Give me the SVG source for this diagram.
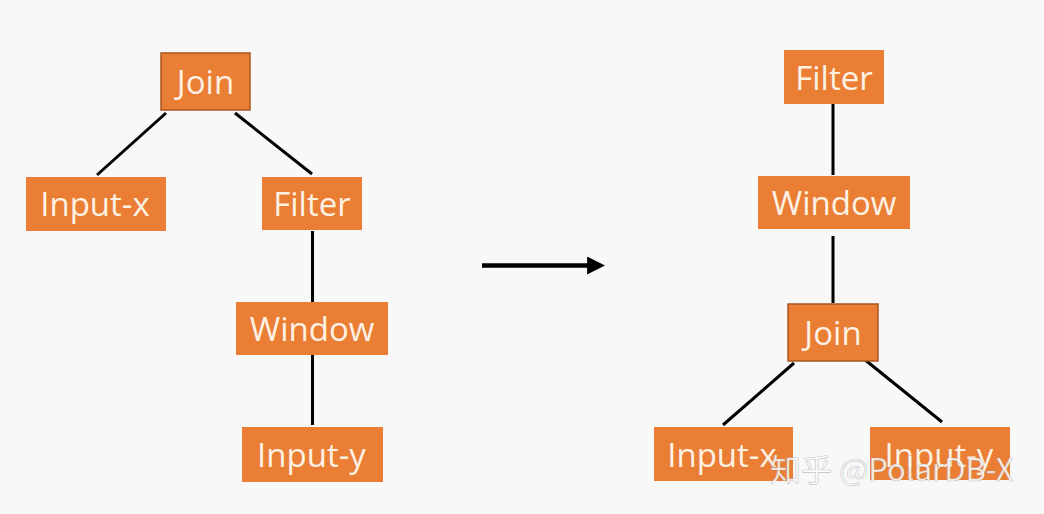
<svg xmlns="http://www.w3.org/2000/svg" width="1044" height="514" viewBox="0 0 1044 514">
<style>
.box{fill:#ea7e35}
.bd{stroke:#a85620;stroke-width:1.5}
.lbl{font-family:"Open Sans","Noto Sans",sans-serif;font-size:33px;fill:#fdf1e4;text-anchor:middle}
.edge{stroke:#000;stroke-width:3;fill:none}
.wm{font-family:"Noto Sans CJK SC","Noto Sans",sans-serif;font-size:31px;fill:#ffffff;fill-opacity:0.85;stroke:#9a9a9a;stroke-width:0.6;stroke-opacity:0.6}
</style>
<defs>
<marker id="ah" markerWidth="4" markerHeight="4" refX="0.2" refY="2" orient="auto" markerUnits="strokeWidth">
<path d="M0,0 L4,2 L0,4 Z" fill="#000"/>
</marker>
</defs>
<rect width="1044" height="514" fill="#f8f8f8"/>
<g id="connectors">
<line class="edge" x1="166" y1="113" x2="97" y2="175"/>
<line class="edge" x1="235" y1="113" x2="312" y2="174"/>
<line class="edge" x1="312.5" y1="231" x2="312.5" y2="302"/>
<line class="edge" x1="312.5" y1="355" x2="312.5" y2="425"/>
<line class="edge" x1="833" y1="104" x2="833" y2="175"/>
<line class="edge" x1="833" y1="236" x2="833" y2="303"/>
<line class="edge" x1="794" y1="363" x2="723" y2="425"/>
<line class="edge" x1="864" y1="359" x2="942" y2="422"/>
<line id="arrow" x1="482" y1="265.5" x2="588" y2="265.5" stroke="#000" stroke-width="4.5" marker-end="url(#ah)"/>
</g>
<g id="l-join"><rect class="box bd" x="161" y="53" width="89" height="57"/><text class="lbl" x="205.5" y="94">Join</text></g>
<g id="l-inputx"><rect class="box" x="26" y="177" width="140" height="54"/><text class="lbl" x="95" y="216">Input-x</text></g>
<g id="l-filter"><rect class="box" x="262" y="177" width="100" height="53"/><text class="lbl" x="312" y="216">Filter</text></g>
<g id="l-window"><rect class="box" x="236" y="302" width="152" height="53"/><text class="lbl" x="312" y="341">Window</text></g>
<g id="l-inputy"><rect class="box" x="242" y="427" width="141" height="55"/><text class="lbl" x="311.5" y="467">Input-y</text></g>
<g id="r-filter"><rect class="box" x="784" y="50" width="100" height="54"/><text class="lbl" x="834" y="90">Filter</text></g>
<g id="r-window"><rect class="box" x="758" y="176" width="152" height="53"/><text class="lbl" x="834" y="215">Window</text></g>
<g id="r-join"><rect class="box bd" x="788" y="304" width="90" height="57"/><text class="lbl" x="833" y="345">Join</text></g>
<g id="r-inputx"><rect class="box" x="654" y="427" width="139" height="54"/><text class="lbl" x="722" y="467">Input-x</text></g>
<g id="r-inputy"><rect class="box" x="870" y="427" width="140" height="53"/><text class="lbl" x="939" y="467">Input-y</text></g>
<text class="wm" x="770" y="481">知乎 @PolarDB-X</text>
</svg>
